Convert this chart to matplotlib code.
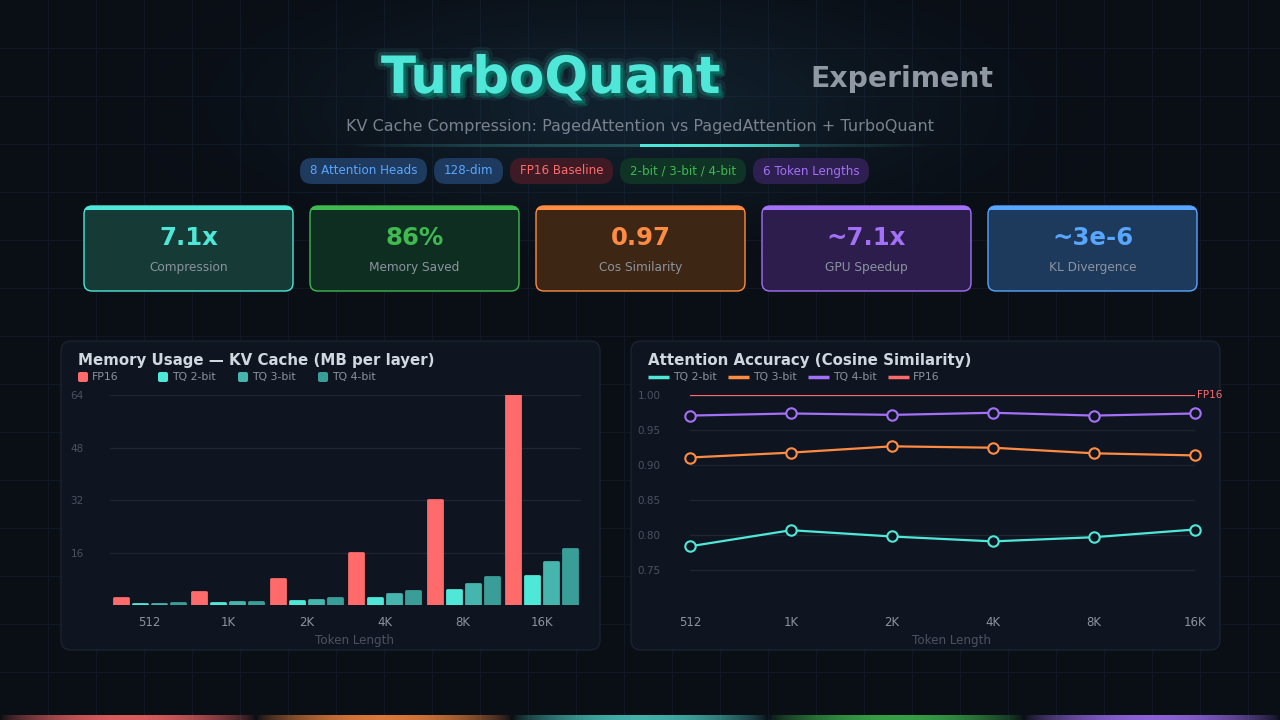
import numpy as np
import matplotlib
matplotlib.use("Agg")
import matplotlib.pyplot as plt
from matplotlib.patches import FancyBboxPatch, Rectangle
import matplotlib.patheffects as pe

plt.rcParams["font.family"] = ["DejaVu Sans"]

# ---- data ----
tokens = ["512", "1K", "2K", "4K", "8K", "16K"]
fp16_mb = [2, 4, 8, 16, 32, 64]
tq2_mb = [0.28, 0.56, 1.13, 2.25, 4.5, 9.0]
tq3_mb = [0.41, 0.81, 1.63, 3.25, 6.5, 13.0]
tq4_mb = [0.53, 1.06, 2.13, 4.25, 8.5, 17.0]

tq2_cos = [0.784, 0.807, 0.798, 0.791, 0.797, 0.808]
tq3_cos = [0.911, 0.918, 0.927, 0.925, 0.917, 0.914]
tq4_cos = [0.971, 0.974, 0.972, 0.975, 0.971, 0.974]
fp16_cos = 1.0

pill_labels = ["8 Attention Heads", "128-dim", "FP16 Baseline", "2-bit / 3-bit / 4-bit", "6 Token Lengths"]
card_values = ["7.1x", "86%", "0.97", "~7.1x", "~3e-6"]
card_labels = ["Compression", "Memory Saved", "Cos Similarity", "GPU Speedup", "KL Divergence"]

# ---- colours ----
BG = "#0a0e15"
PANEL = "#0f1520"
TEAL = "#4fe8d8"
TQ3_BAR = "#45b5ad"
TQ4_BAR = "#3a9e98"
RED = "#ff6b6b"
ORANGE = "#ff8c42"
PURPLE = "#a371f7"
GREEN = "#3fb950"
BLUE = "#58a6ff"
DIM = "#4a5260"
GREY = "#8b949e"

fig = plt.figure(figsize=(12.8, 7.2), dpi=100, facecolor=BG)
bg = fig.add_axes([0, 0, 1, 1])
bg.set_xlim(0, 1280)
bg.set_ylim(720, 0)
bg.axis("off")
bg.set_facecolor(BG)

# background grid
for g in range(48, 1280, 48):
    bg.plot([g, g], [0, 720], color="#111824", lw=0.8, zorder=0)
for g in range(48, 720, 48):
    bg.plot([0, 1280], [g, g], color="#111824", lw=0.8, zorder=0)

# radial glow behind header
yy, xx = np.mgrid[0:720:2, 0:1280:2]
glow = np.exp(-(((xx - 620) / 280.0) ** 2 + ((yy - 105) / 95.0) ** 2))
rgba = np.zeros(xx.shape + (4,))
rgba[..., 0] = 0.10
rgba[..., 1] = 0.22
rgba[..., 2] = 0.30
rgba[..., 3] = glow * 0.45
bg.imshow(rgba, extent=[0, 1280, 720, 0], zorder=0.5, interpolation="bilinear")

# header
title = bg.text(381, 93, "TurboQuant", fontsize=37, fontweight="bold", color=TEAL,
                ha="left", va="baseline", zorder=5)
title.set_path_effects([
    pe.Stroke(linewidth=10, foreground=TEAL, alpha=0.08),
    pe.Stroke(linewidth=5, foreground=TEAL, alpha=0.15),
    pe.SimplePatchShadow(offset=(3.5, -3.5), shadow_rgbFace="#08524b", alpha=1),
    pe.SimplePatchShadow(offset=(2, -2), shadow_rgbFace="#0b6a60", alpha=1),
    pe.Normal()])
bg.text(810, 87, "Experiment", fontsize=20.3, fontweight="bold", color="#8f98a3",
        ha="left", va="baseline", zorder=5)
bg.text(640, 127, "KV Cache Compression: PagedAttention vs PagedAttention + TurboQuant",
        fontsize=11.5, color="#7a828e", ha="center", va="center", zorder=5)

# underline gradient
n = 600
t = np.linspace(0, 1, n)
strip = np.zeros((1, n, 4))
c_dim = np.array([0.18, 0.45, 0.45])
c_hi = np.array([0.31, 0.91, 0.85])
hi = ((t > (640 - 350) / 580) & (t < (800 - 350) / 580)).astype(float)
for k in range(3):
    strip[0, :, k] = c_dim[k] * (1 - hi) + c_hi[k] * hi
strip[0, :, 3] = np.sin(np.pi * t) ** 0.8 * (0.6 + 0.4 * hi)
bg.imshow(strip, extent=[350, 930, 147.5, 145], zorder=2, aspect="auto")

# pills
pill_x = [(300, 427), (434, 503), (510, 613), (620, 746), (753, 869)]
pill_bg = ["#1e3a5f", "#1e3a5f", "#3d1a24", "#0f3324", "#2d1f4f"]
pill_fg = [BLUE, BLUE, RED, GREEN, PURPLE]
for lab, (x0, x1), pb, pf in zip(pill_labels, pill_x, pill_bg, pill_fg):
    bg.add_patch(FancyBboxPatch((x0, 158), x1 - x0, 26,
                                boxstyle="round,pad=0,rounding_size=12",
                                fc=pb, ec="none", zorder=3))
    bg.text((x0 + x1) / 2, 171, lab, fontsize=8.6, color=pf, ha="center", va="center", zorder=4)

# stat cards
card_accent = [TEAL, GREEN, ORANGE, PURPLE, BLUE]
card_fill = ["#163a36", "#0f2e22", "#3d2614", "#2d1d4d", "#1d3a5c"]
for i in range(5):
    x0 = 84 + i * 226
    card = FancyBboxPatch((x0, 206), 209, 85, boxstyle="round,pad=0,rounding_size=8",
                          fc=card_fill[i], ec=card_accent[i], lw=1, zorder=3)
    bg.add_patch(card)
    top = Rectangle((x0 - 2, 204), 213, 6, fc=card_accent[i], ec="none", zorder=3.5)
    bg.add_patch(top)
    top.set_clip_path(card)
    bg.text(x0 + 104.5, 238, card_values[i], fontsize=17.6, fontweight="bold",
            color=card_accent[i], ha="center", va="center", zorder=4)
    bg.text(x0 + 104.5, 268, card_labels[i], fontsize=8.7, color=GREY,
            ha="center", va="center", zorder=4)

# chart panels
for x0, w in [(61, 539), (631, 589)]:
    bg.add_patch(FancyBboxPatch((x0, 341), w, 309, boxstyle="round,pad=0,rounding_size=10",
                                fc=PANEL, ec="#1b2230", lw=1, zorder=2))

bg.text(78, 361, "Memory Usage — KV Cache (MB per layer)", fontsize=10.8, fontweight="bold",
        color="#d0d7de", ha="left", va="center", zorder=4)
bg.text(648, 361, "Attention Accuracy (Cosine Similarity)", fontsize=10.8, fontweight="bold",
        color="#d0d7de", ha="left", va="center", zorder=4)

# bar legend
bar_names = ["FP16", "TQ 2-bit", "TQ 3-bit", "TQ 4-bit"]
bar_colors = [RED, TEAL, TQ3_BAR, TQ4_BAR]
for k, (nm, c) in enumerate(zip(bar_names, bar_colors)):
    lx = 78 + k * 80
    bg.add_patch(FancyBboxPatch((lx, 372), 10, 10, boxstyle="round,pad=0,rounding_size=2",
                                fc=c, ec="none", zorder=4))
    bg.text(lx + 14, 377, nm, fontsize=7.8, color=GREY, ha="left", va="center", zorder=4)

# line legend
line_names = ["TQ 2-bit", "TQ 3-bit", "TQ 4-bit", "FP16"]
line_colors = [TEAL, ORANGE, PURPLE, RED]
for k, (nm, c) in enumerate(zip(line_names, line_colors)):
    lx = 648 + k * 80
    bg.plot([lx, lx + 21], [377, 377], color=c, lw=2.5, zorder=4, solid_capstyle="butt")
    bg.text(lx + 25, 377, nm, fontsize=7.8, color=GREY, ha="left", va="center", zorder=4)

# bottom colour strip
seg_colors = [RED, ORANGE, "#4ecdc4", GREEN, PURPLE]
bstrip = np.zeros((1, 1280, 4))
for s, c in enumerate(seg_colors):
    rgb = matplotlib.colors.to_rgb(c)
    tt = np.linspace(0, 1, 256)
    for k in range(3):
        bstrip[0, s * 256:(s + 1) * 256, k] = rgb[k]
    bstrip[0, s * 256:(s + 1) * 256, 3] = np.sin(np.pi * tt) ** 0.7 * 0.85
bg.imshow(bstrip, extent=[0, 1280, 720, 715.5], zorder=2, aspect="auto")

bg.set_xlim(0, 1280)
bg.set_ylim(720, 0)


def style_axes(ax, label_x):
    ax.set_facecolor("none")
    for s in ax.spines.values():
        s.set_visible(False)
    ax.tick_params(axis="both", length=0)
    ax.tick_params(axis="x", colors=GREY, labelsize=8.5, pad=8)
    ax.tick_params(axis="y", colors=DIM, labelsize=7.5, pad=19)
    ax.grid(axis="y", color="#1e2633", lw=0.9)
    ax.set_axisbelow(True)
    ax.set_xlabel("Token Length", color=DIM, fontsize=8.6)
    ax.xaxis.set_label_coords(label_x, -0.14)


# ---- bar chart ----
ax1 = fig.add_axes([110 / 1280, 115 / 720, 471 / 1280, 209.7 / 720], zorder=5)
style_axes(ax1, 0.52)
x = np.arange(len(tokens))
pitch = 0.242
series = [fp16_mb, tq2_mb, tq3_mb, tq4_mb]
for k, (vals, c) in enumerate(zip(series, bar_colors)):
    ax1.bar(x + (k - 1.5) * pitch, vals, width=0.181, color=c, edgecolor=c,
            linewidth=2, joinstyle="round", zorder=3)
ax1.set_xlim(-0.5, 5.5)
ax1.set_ylim(0, 64)
ax1.set_yticks([16, 32, 48, 64])
ax1.set_xticks(x)
ax1.set_xticklabels(tokens)

# ---- line chart ----
ax2 = fig.add_axes([690 / 1280, 115 / 720, 505 / 1280, 209.7 / 720], zorder=5)
style_axes(ax2, 0.518)
ax2.tick_params(axis="y", pad=21)
ax2.axhline(fp16_cos, color=RED, lw=0.9, zorder=2)
ax2.text(5.02, fp16_cos, "FP16", color=RED, fontsize=7.5, ha="left", va="center")
for vals, c in zip([tq2_cos, tq3_cos, tq4_cos], [TEAL, ORANGE, PURPLE]):
    ax2.plot(x, vals, color=c, lw=1.6, marker="o", ms=7.5, mfc=PANEL, mec=c, mew=1.5,
             zorder=3, clip_on=False)
ax2.set_xlim(0, 5)
ax2.set_ylim(0.70, 1.00)
ax2.set_yticks([0.75, 0.80, 0.85, 0.90, 0.95, 1.00])
ax2.set_yticklabels([f"{v:.2f}" for v in [0.75, 0.80, 0.85, 0.90, 0.95, 1.00]])
ax2.set_xticks(x)
ax2.set_xticklabels(tokens)

fig.savefig("out.png", dpi=100, facecolor=BG)
